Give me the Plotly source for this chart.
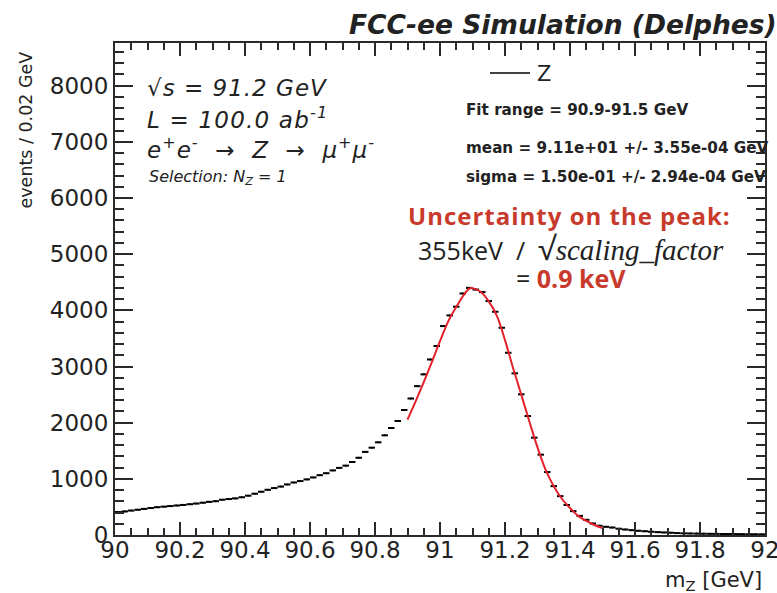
import numpy as np
import plotly.graph_objects as go

# ---------------- data ----------------
bin_low = 90.0
bin_width = 0.02
events = [410, 420, 435, 450, 465, 480, 495, 505, 515, 525,
          535, 548, 560, 575, 590, 602, 628, 640, 652, 672,
          700, 735, 770, 805, 835, 862, 900, 935, 960, 990,
          1025, 1065, 1100, 1150, 1195, 1235, 1300, 1375, 1480, 1555,
          1650, 1775, 1905, 2030, 2225, 2430, 2650, 2860, 3125, 3365,
          3720, 3910, 4065, 4300, 4400, 4370, 4325, 4165, 3975, 3690,
          3245, 2878, 2505, 2118, 1733, 1430, 1120, 870, 692, 535,
          425, 340, 270, 205, 165, 146, 133, 112, 98, 86,
          75, 67, 58, 51, 45, 40, 34, 30, 27, 25,
          23, 21, 20, 18, 17, 16, 15, 14, 13, 12]
bin_centers = [round(bin_low + bin_width * (i + 0.5), 3) for i in range(len(events))]

fit_x = [90.900, 90.925, 90.950, 90.975, 91.000, 91.025, 91.050, 91.075, 91.090,
         91.100, 91.125, 91.150, 91.175, 91.200, 91.225, 91.250, 91.275, 91.300,
         91.325, 91.350, 91.375, 91.400, 91.425, 91.450, 91.475, 91.500]
fit_y = [2055, 2380, 2720, 3080, 3450, 3800, 4060, 4290, 4385,
         4395, 4330, 4160, 3900, 3470, 2970, 2500, 2020, 1560,
         1160, 870, 645, 480, 340, 250, 178, 122]

x_range = [90, 92]
y_range = [0, 8760]

# ---------------- layout helpers ----------------
W, H = 777, 593
L, R, T, B = 115, 12, 43, 58
PW, PH = W - L - R, H - T - B


def px(xp):
    return (xp - L) / PW


def py(yp):
    return (H - B - yp) / PH


FONT = "DejaVu Sans"
SLIDE = "Open Sans"
RED_TXT = "#c83a2c"
NB = "\u00a0"

fig = go.Figure()

fig.add_trace(go.Scatter(
    x=bin_centers, y=events, mode="markers",
    marker=dict(size=2, color="black"),
    error_x=dict(type="constant", value=bin_width / 2, thickness=2, width=0, color="black"),
    showlegend=False, hoverinfo="x+y"))

fig.add_trace(go.Scatter(
    x=fit_x, y=fit_y, mode="lines",
    line=dict(color="#e3222b", width=2, shape="spline"),
    showlegend=False))

axis_common = dict(
    showline=True, linewidth=2, linecolor="#2a2a2a", mirror="allticks",
    ticks="inside", tickcolor="#2a2a2a", tickwidth=2,
    showgrid=False, zeroline=False, automargin=False, ticklabeloverflow="allow",
    tickfont=dict(family=FONT, size=23, color="#222"),
)

fig.update_xaxes(range=x_range, dtick=0.2, tick0=90, ticklen=13, ticklabelstandoff=-7,
                 minor=dict(dtick=0.05, ticklen=7, ticks="inside", tickcolor="#2a2a2a", tickwidth=1.5),
                 **axis_common)
fig.update_yaxes(range=y_range, dtick=1000, tick0=0, ticklen=18, tickformat="d",
                 minor=dict(dtick=200, ticklen=9, ticks="inside", tickcolor="#2a2a2a", tickwidth=1.5),
                 **axis_common)

ann = []


def add(text, xp, yp, size, xanchor="left", color="#222", family=FONT, angle=0, yanchor="middle"):
    ann.append(dict(text=text, x=px(xp), y=py(yp), xref="paper", yref="paper",
                    xanchor=xanchor, yanchor=yanchor, showarrow=False, textangle=angle,
                    borderpad=0,
                    font=dict(family=family, size=size, color=color)))


def spaced(text, ls):
    return "<span style='letter-spacing:%spx'>%s</span>" % (ls, text)


add("<b><i>FCC-ee Simulation (Delphes)</i></b>", 778, 25, 26.5, xanchor="right")
add("events / 0.02 GeV", 25, 51, 17.5, xanchor="center", angle=-90, yanchor="top")
add("m<sub>Z</sub> [GeV]", 763, 581, 21, xanchor="right")

add(spaced("<i>√s = 91.2 GeV</i>", 1), 146, 88, 23)
add(spaced("<i>L = 100.0 ab<sup>-1</sup></i>", 1.2), 146, 118, 23)
add(spaced("<i>e<sup>+</sup>e<sup>-</sup>  →  Z  →  μ<sup>+</sup>μ<sup>-</sup></i>", 1), 146, 148, 23)
add("<i>Selection: N<sub>Z</sub> = 1</i>", 148, 177, 16)

add("Z", 536, 74, 21)

add("<b>Fit range = 90.9-91.5 GeV</b>", 465, 110, 15.2)
add("<b>mean = 9.11e+01 +/- 3.55e-04 GeV</b>", 465, 148, 15.2)
add("<b>sigma = 1.50e-01 +/- 2.94e-04 GeV</b>", 465, 177, 15.2)

add(spaced("<b>Uncertainty on the peak:</b>", 1), 569, 215, 24, xanchor="center", color=RED_TXT, family=SLIDE)
add("355keV" + NB + NB + "/" + NB + NB + "<span style='font-size:32px'>√</span>"
    "<span style='font-family:Liberation Serif;font-size:29px'><i>scaling_factor</i></span>",
    571, 247, 25, xanchor="center", family=SLIDE)
add("= <span style='color:%s'><b>0.9 keV</b></span>" % RED_TXT, 571, 278, 25, xanchor="center", family=SLIDE)

fig.update_layout(
    width=W, height=H, autosize=False,
    margin=dict(l=L, r=R, t=T, b=B, pad=0, autoexpand=False),
    paper_bgcolor="white", plot_bgcolor="white",
    annotations=ann,
    shapes=[dict(type="line", xref="paper", yref="paper",
                 x0=px(490), x1=px(530), y0=py(73), y1=py(73),
                 line=dict(color="black", width=1.5))],
)

fig.write_html("out.html")
